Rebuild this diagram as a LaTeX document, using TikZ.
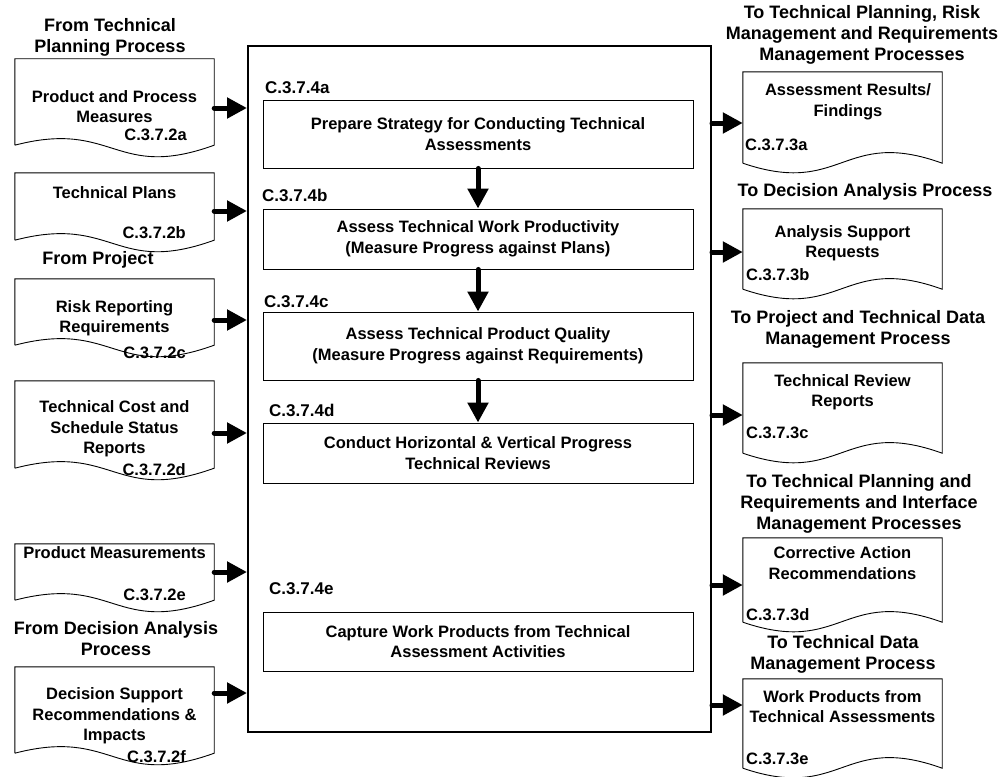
\documentclass[tikz,border=0pt]{standalone}
\usepackage{fontspec}
\setmainfont{Liberation Sans}
\usetikzlibrary{arrows.meta,calc}
% wavy-bottom document outlines drawn round a named body node
\newcommand\leftdoc[1]{\draw[docline] (#1.south west) -- (#1.north west) -- (#1.north east) -- (#1.south east)
  .. controls ($(#1.south)+(0,36)$) and ($(#1.south)+(0,-26)$) .. (#1.south west);}
\newcommand\rightdoc[1]{\draw[docline] (#1.south west) -- (#1.north west) -- (#1.north east) -- (#1.south east)
  .. controls ($(#1.south)+(0,-36)$) and ($(#1.south)+(0,34)$) .. (#1.south west);}
\begin{document}
\begin{tikzpicture}[x=1pt,y=-1pt,
  every node/.style={font=\bfseries\fontsize{16.5}{20.5}\selectfont, inner sep=0pt},
  heading/.style={align=center, font=\bfseries\fontsize{18}{21}\selectfont},
  frame/.style={draw, line width=2pt, minimum width=463pt, minimum height=686pt},
  stepbox/.style={draw, line width=0.9pt, minimum width=430pt, align=center},
  steptag/.style={anchor=west, font=\bfseries\fontsize{17}{20}\selectfont},
  docbody/.style={minimum width=199pt},
  doctext/.style={align=center},
  lefttag/.style={anchor=east},
  righttag/.style={anchor=west},
  docline/.style={line width=0.9pt},
  flowarrow/.style={line width=5pt, line cap=round, -{Triangle[length=20pt,width=20pt]}},
]
\useasboundingbox (0,0) rectangle (1000,776);

% central process frame and its steps
\node[frame] (proc) at (479.5,389) {};
\node[stepbox, minimum height=68pt] (sa) at (478,134) {Prepare Strategy for Conducting Technical\\Assessments};
\node[stepbox, minimum height=60pt] (sb) at (478,239) {Assess Technical Work Productivity\\(Measure Progress against Plans)};
\node[stepbox, minimum height=68pt] (sc) at (478,346) {Assess Technical Product Quality\\(Measure Progress against Requirements)};
\node[stepbox, minimum height=60pt] (sd) at (478,453) {Conduct Horizontal \& Vertical Progress\\Technical Reviews};
\node[stepbox, minimum height=59pt] (se) at (478,641.5) {Capture Work Products from Technical\\Assessment Activities};
\node[steptag] (ta) at (265,88) {C.3.7.4a};
\node[steptag] (tb) at (262,195) {C.3.7.4b};
\node[steptag] (tc) at (264,302) {C.3.7.4c};
\node[steptag] (td) at (269,410) {C.3.7.4d};
\node[steptag] (te) at (269,589) {C.3.7.4e};
\draw[flowarrow] (sa.south) -- (sb.north);
\draw[flowarrow] (sb.south) -- (sc.north);
\draw[flowarrow] (sc.south) -- (sd.north);

% inputs
\node[heading] (hA) at (110,37.5) {From Technical\\Planning Process};
\node[heading] (hB) at (98,260) {From Project};
\node[heading] (hC) at (116,639) {From Decision Analysis\\Process};

\node[docbody, minimum height=86pt] (iA) at (114.5,102) {};
\node[docbody, minimum height=67pt] (iB) at (114.5,206.5) {};
\node[docbody, minimum height=66pt] (iC) at (114.5,312) {};
\node[docbody, minimum height=87pt] (iD) at (114.5,424.5) {};
\node[docbody, minimum height=56pt] (iE) at (114.5,572) {};
\node[docbody, minimum height=86pt] (iF) at (114.5,710) {};
\foreach \d in {iA,iB,iC,iD,iE,iF} {\leftdoc{\d}}

\node[doctext] (xA) at (114.5,106.5) {Product and Process\\Measures};
\node[doctext] (xB) at (114.5,193) {Technical Plans};
\node[doctext] (xC) at (114.5,318) {Risk Reporting\\Requirements};
\node[doctext] (xD) at (114.5,429) {Technical Cost and\\Schedule Status\\Reports};
\node[doctext] (xE) at (114.5,553) {Product Measurements};
\node[doctext] (xF) at (114.5,716) {Decision Support\\Recommendations \&\\Impacts};
\node[lefttag] (cA) at (187,135) {C.3.7.2a};
\node[lefttag] (cB) at (186,233) {C.3.7.2b};
\node[lefttag] (cC) at (186,353) {C.3.7.2c};
\node[lefttag] (cD) at (186,470) {C.3.7.2d};
\node[lefttag] (cE) at (186,595) {C.3.7.2e};
\node[lefttag] (cF) at (186,757) {C.3.7.2f};

\coordinate (yA) at (0,108);
\coordinate (yB) at (0,211);
\coordinate (yC) at (0,320);
\coordinate (yD) at (0,433);
\coordinate (yE) at (0,572);
\coordinate (yF) at (0,693);
\foreach \d/\y in {iA/yA,iB/yB,iC/yC,iD/yD,iE/yE,iF/yF}
  {\draw[flowarrow] (\d.east |- \y) -- (proc.west |- \y);}

% outputs
\node[heading] (gA) at (862,35) {To Technical Planning, Risk\\Management and Requirements\\Management Processes};
\node[heading] (gB) at (865,192) {To Decision Analysis Process};
\node[heading] (gC) at (858,329) {To Project and Technical Data\\Management Process};
\node[heading] (gD) at (859,503.5) {To Technical Planning and\\Requirements and Interface\\Management Processes};
\node[heading] (gE) at (843,654) {To Technical Data\\Management Process};

\node[docbody, minimum height=91pt] (oA) at (842.5,117.5) {};
\node[docbody, minimum height=80pt] (oB) at (842.5,249) {};
\node[docbody, minimum height=90pt] (oC) at (842.5,408) {};
\node[docbody, minimum height=84pt] (oD) at (842.5,580) {};
\node[docbody, minimum height=89pt] (oE) at (842.5,723.5) {};
\foreach \d in {oA,oB,oC,oD,oE} {\rightdoc{\d}}

\node[doctext] (zA) at (848,102) {Assessment Results/\\Findings};
\node[doctext] (zB) at (842.5,243) {Analysis Support\\Requests};
\node[doctext] (zC) at (842.5,392) {Technical Review\\Reports};
\node[doctext] (zD) at (842.5,563) {Corrective Action\\Recommendations};
\node[doctext] (zE) at (842.5,706.5) {Work Products from\\Technical Assessments};
\node[righttag] (kA) at (745,145) {C.3.7.3a};
\node[righttag] (kB) at (746,275) {C.3.7.3b};
\node[righttag] (kC) at (746,433) {C.3.7.3c};
\node[righttag] (kD) at (746,615) {C.3.7.3d};
\node[righttag] (kE) at (746,759) {C.3.7.3e};

\coordinate (vA) at (0,123);
\coordinate (vB) at (0,252);
\coordinate (vC) at (0,415);
\coordinate (vD) at (0,585);
\coordinate (vE) at (0,705);
\foreach \d/\y in {oA/vA,oB/vB,oC/vC,oD/vD,oE/vE}
  {\draw[flowarrow] (proc.east |- \y) -- (\d.west |- \y);}
\end{tikzpicture}
\end{document}
